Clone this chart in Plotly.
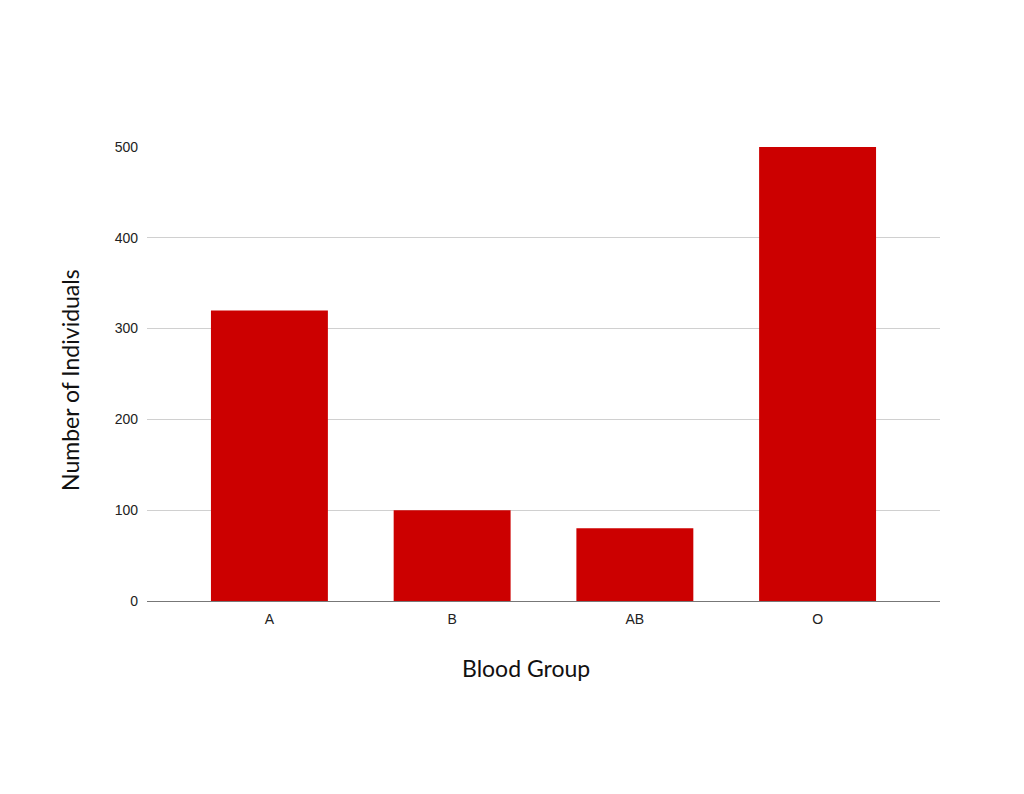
import plotly.graph_objects as go

# blood group counts
groups = ["A", "B", "AB", "O"]
counts = [320, 100, 80, 500]
y_ticks = [0, 100, 200, 300, 400, 500]

fig = go.Figure()
fig.add_trace(go.Bar(
    x=groups, y=counts,
    marker=dict(color="#cc0000", line=dict(width=0)),
    showlegend=False,
))

title_font = dict(family="Lato, Noto Sans, sans-serif", size=23, color="#111111")

# the page puts the figure 8px in from the corner, so margins are trimmed for that
fig.update_layout(
    width=1024, height=794,
    margin=dict(l=139, r=92, t=138, b=201),
    paper_bgcolor="white", plot_bgcolor="white",
    bargap=0.36,
    font=dict(family="Liberation Sans, Arial, sans-serif", size=14, color="#222222"),
    annotations=[
        dict(text="Blood Group", xref="paper", yref="paper", x=0.478, y=-0.147,
             xanchor="center", yanchor="middle", showarrow=False, font=title_font),
        dict(text="Number of Individuals", xref="paper", yref="paper", x=-0.097, y=0.486,
             xanchor="center", yanchor="middle", textangle=-90, showarrow=False, font=title_font),
    ],
)
fig.update_xaxes(
    range=[-0.67, 3.67],
    showgrid=False, showline=False, ticks="", ticklen=0, ticklabelstandoff=8,
    tickfont=dict(size=14, color="#222222"),
)
fig.update_yaxes(
    range=[0, 501], tickvals=y_ticks,
    showgrid=True, gridcolor="#d0d0d0", gridwidth=1,
    zeroline=True, zerolinecolor="#777777", zerolinewidth=1,
    showline=False, ticks="", ticklabelstandoff=8,
    tickfont=dict(size=14, color="#222222"),
)

fig.write_html("out.html")
